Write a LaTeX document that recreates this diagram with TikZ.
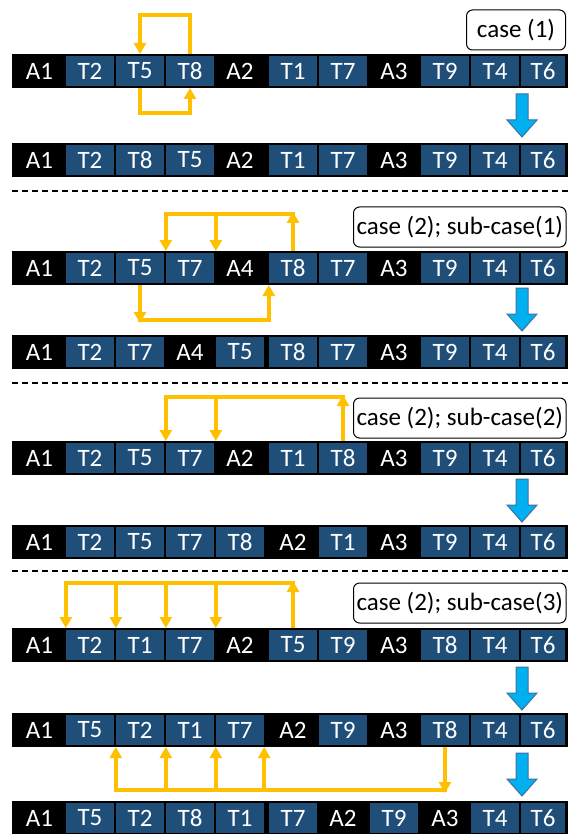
\documentclass[tikz,border=0pt]{standalone}
\usepackage{fontspec}
\setmainfont{Carlito}
\usetikzlibrary{arrows.meta, calc}

\definecolor{cellblue}{RGB}{31,78,121}
\definecolor{moveorange}{RGB}{255,192,0}
\definecolor{arrowblue}{RGB}{0,176,240}
\definecolor{arrowedge}{RGB}{65,113,156}

\begin{document}
\begin{tikzpicture}[x=1pt, y=-1pt,
  cell/.style={minimum width=48pt, minimum height=30pt, inner sep=0pt, outer ysep=2pt,
    text=white, font=\fontsize{25}{29}\selectfont},
  A-cell/.style={cell, fill=black},
  T-cell/.style={cell, fill=cellblue},
  casebox/.style={draw, fill=white, line width=1pt, rounded corners=6pt, minimum height=40pt,
    inner xsep=3pt, anchor=east, font=\fontsize{25}{29}\selectfont},
  moveline/.style={draw=moveorange, line width=4pt},
  busline/.style={moveline, line cap=rect},
  movetip/.style={-{Triangle[width=12pt, length=11pt]}},
  dashrule/.style={line width=2.5pt, dash pattern=on 5.5pt off 4.5pt},
  blockarrow/.style={fill=arrowblue, draw=arrowedge, line width=1pt}]

  \useasboundingbox (0,0) rectangle (568,834);
  \clip (0,0) rectangle (568,834);

  % the rows of tasks
  \def\cellx{{39.5,90,140,190,240,293,343,394,445,495,543}}
  \foreach \r/\y/\cells in {
    1/71/{A/1,T/2,T/5,T/8,A/2,T/1,T/7,A/3,T/9,T/4,T/6},
    2/160/{A/1,T/2,T/8,T/5,A/2,T/1,T/7,A/3,T/9,T/4,T/6},
    3/268/{A/1,T/2,T/5,T/7,A/4,T/8,T/7,A/3,T/9,T/4,T/6},
    4/352/{A/1,T/2,T/7,A/4,T/5,T/8,T/7,A/3,T/9,T/4,T/6},
    5/458/{A/1,T/2,T/5,T/7,A/2,T/1,T/8,A/3,T/9,T/4,T/6},
    6/542/{A/1,T/2,T/5,T/7,T/8,A/2,T/1,A/3,T/9,T/4,T/6},
    7/645/{A/1,T/2,T/1,T/7,A/2,T/5,T/9,A/3,T/8,T/4,T/6},
    8/730/{A/1,T/5,T/2,T/1,T/7,A/2,T/9,A/3,T/8,T/4,T/6},
    9/818/{A/1,T/5,T/2,T/8,T/1,T/7,A/2,T/9,A/3,T/4,T/6}}{
    \fill (12,\y-17) rectangle (568,\y+17);
    \foreach \s/\n [count=\i from 0] in \cells {
      \pgfmathsetmacro\cx{\cellx[\i]}
      \ifnum\i=10 \def\cw{44pt}\else\def\cw{48pt}\fi
      \node[\s-cell, minimum width=\cw] (r\r-\i) at (\cx,\y) {\s\n};
    }
  }

  % separators
  \foreach \y in {191,383,571}
    \draw[dashrule] (12,\y) -- (568,\y);

  % case labels
  \node[casebox, minimum width=99pt] (case1) at (566,30) {case (1)};
  \node[casebox] (case2a) at (566.5,227) {case (2); sub-case(1)};
  \node[casebox] (case2b) at (566.5,418) {case (2); sub-case(2)};
  \node[casebox] (case2c) at (566.5,603) {case (2); sub-case(3)};

  % case (1)
  \draw[moveline, movetip] (r1-3.north) -- ++(0,-39) -| (r1-2.north);
  \draw[moveline, movetip] (r1-2.south) -- ++(0,25) -| (r1-3.south);

  % case (2), sub-case (1)
  \draw[moveline, movetip] (r3-5.north) -- ++(0,-39);
  \draw[busline, movetip] (r3-5.north) ++(0,-37) -| (r3-3.north west);
  \draw[moveline, movetip] (r3-4.north west) ++(0,-37) -- (r3-4.north west);
  \draw[moveline, movetip] (r3-2.south) -- ++(0,38);
  \draw[busline, movetip] (r3-2.south) ++(0,35) -| (r3-5.south west);

  % case (2), sub-case (2)
  \draw[moveline, movetip] (r5-6.north) -- ++(0,-46);
  \draw[busline, movetip] (r5-6.north) ++(0,-44) -| (r5-3.north west);
  \draw[moveline, movetip] (r5-4.north west) ++(0,-44) -- (r5-4.north west);

  % case (2), sub-case (3)
  \draw[moveline, movetip] (r7-5.north) -- ++(0,-47);
  \draw[busline, movetip] (r7-5.north) ++(0,-45) -| (r7-1.north west);
  \foreach \c in {2,3,4}
    \draw[moveline, movetip] (r7-\c.north west) ++(0,-45) -- (r7-\c.north west);
  \draw[moveline, movetip] (r8-8.south) -- ++(0,46);
  \draw[busline, movetip] (r8-8.south) ++(0,43) -| (r8-2.south west);
  \foreach \c in {3,4}
    \draw[moveline, movetip] (r8-\c.south west) ++(0,43) -- (r8-\c.south west);
  \draw[moveline, movetip] (r8-4.south east) ++(0,43) -- (r8-4.south east);

  % steps between rows
  \foreach \top in {94,288,479,667,753}
    \draw[blockarrow] (516,\top) -- (528,\top) -- (528,\top+26) -- (537,\top+26)
      -- (522,\top+43) -- (507,\top+26) -- (516,\top+26) -- cycle;
\end{tikzpicture}
\end{document}
